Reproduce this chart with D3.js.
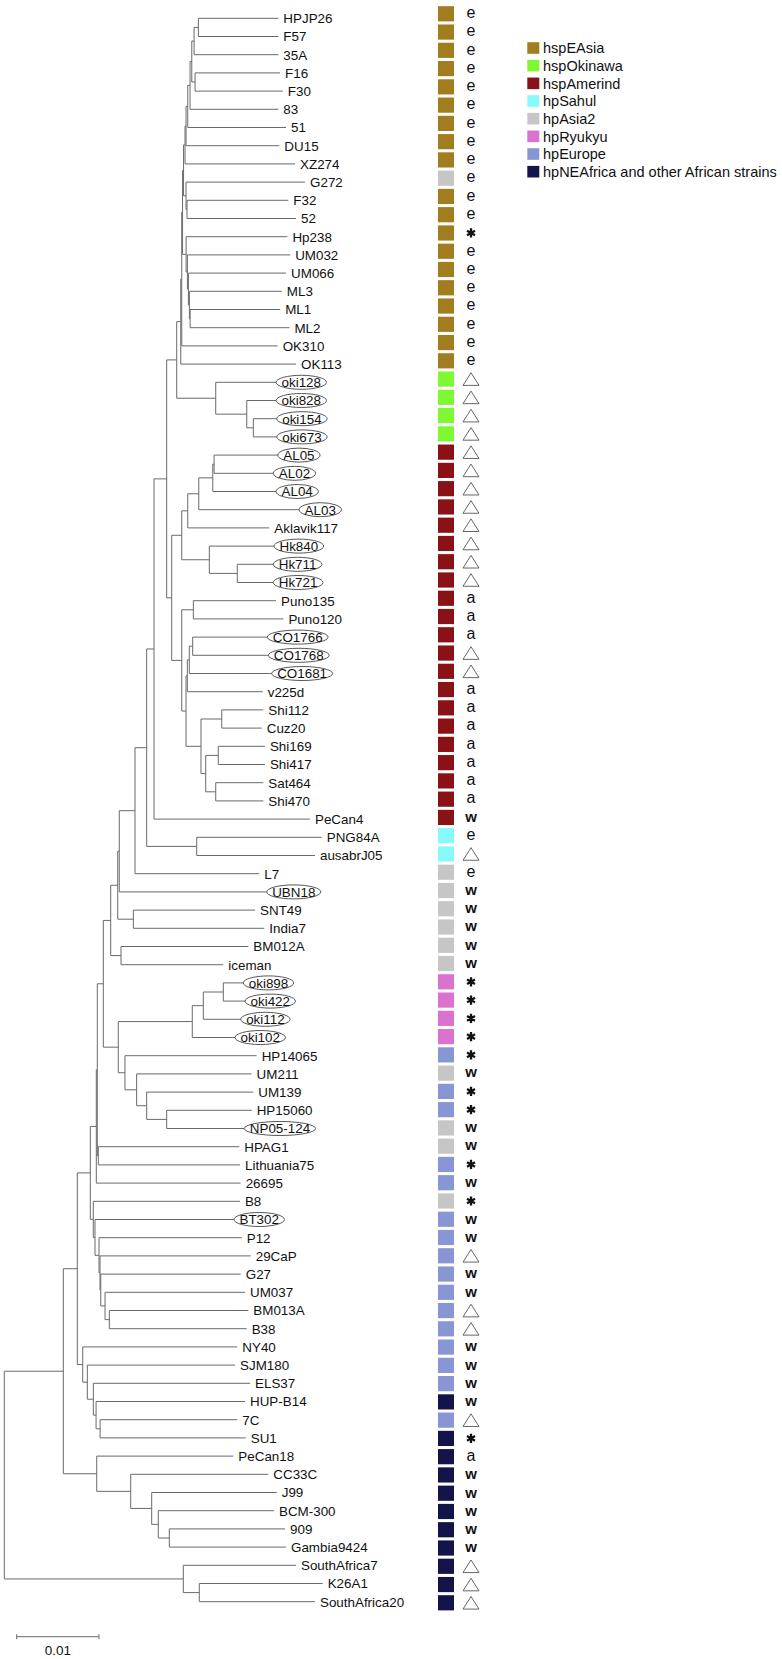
<!DOCTYPE html>
<html><head><meta charset="utf-8">
<script src="https://cdn.jsdelivr.net/npm/d3@7"></script>
<style>
html,body{margin:0;padding:0;background:#fff;}
svg{display:block;font-family:"Liberation Sans",Arial,Helvetica,sans-serif;}
</style></head>
<body>
<svg id="chart" width="782" height="1659"></svg>
<script>
// ---------------- DATA ----------------
// Clades in Newick form; branch lengths in substitutions per site
const cladeEAsiaA = "((((((((HPJP26:0.00972,F57:0.00972):0.00052,35A:0.01024):0.00028,(F16:0.01033,F30:0.01066):0.00040):0.00021,83:0.01073):0.00028,51:0.01194):0.00021,DU15:0.01134):0.00012,XZ274:0.01337):0.00018";
const cladeEAsiaB = "(G272:0.01446,(F32:0.01231,52:0.01324):0.00012):0.00030";
const cladeEAsiaC = "(Hp238:0.01231,(UM032:0.01248,(UM066:0.01187,(ML3:0.01123,(ML1:0.01094,ML2:0.01207):0.00009):0.00012):0.00012):0.00016):0.00043";
const cladeOkinawa = "(oki128:0.00733,(oki828:0.00356,(oki154:0.00284,oki673:0.00284):0.00080):0.00377):0.00474";
const cladeAmerindN = "(((((AL05:0.00774,AL02:0.00720):0.00016,AL04:0.00769):0.00170,AL03:0.01219):0.00134,Aklavik117:0.00991):0.00073,(Hk840:0.00786,(Hk711:0.00437,Hk721:0.00437):0.00340):0.00335):0.00122";
const cladeAmerindS = "((Puno135:0.01005,Puno120:0.01094):0.00141,((((CO1766:0.00906,CO1768:0.00919):0.00041,CO1681:0.01001):0.00024,v225d:0.00916):0.00016,((Shi112:0.00505,Cuz20:0.00486):0.00252,((Shi169:0.00567,Shi417:0.00567):0.00153,(Sat464:0.00578,Shi470:0.00578):0.00122):0.00057):0.00182):0.00052):0.00122";
const cladeSahul = "(PNG84A:0.01519,ausabrJ05:0.01437):0.00608";
const cladeAsia2A = "(SNT49:0.01479,India7:0.01592):0.00190";
const cladeAsia2B = "(BM012A:0.01547,iceman:0.01243):0.00125";
const cladeRyukyuEur = "((((oki898:0.00243,oki422:0.00264):0.00243,oki112:0.00454):0.00134,oki102:0.00519):0.00899,(HP14065:0.01600,(UM211:0.01397,(UM139:0.01295,(HP15060:0.01033,NP05-124:0.00943):0.00243):0.00122):0.00142):0.00081):0.00182";
const cladeEuropeA = "(HPAG1:0.01713,Lithuania75:0.01722):0.00012";
const cladeEuropeB = "(B8:0.01782,(BT302:0.01689,(P12:0.01734,(29CaP:0.01831,(G27:0.01701,(UM037:0.01701,(BM013A:0.01689,B38:0.01669):0.00052):0.00052):0.00009):0.00012):0.00049):0.00021):0.00036";
const cladeEuropeC = "(NY40:0.01878,(SJM180:0.01795,(ELS37:0.01904,(HUP-B14:0.01810,(7C:0.01668,SU1:0.01770):0.00049):0.00033):0.00073):0.00056):0.00066";
const cladeAfrica = "(PeCan18:0.01660,(CC33C:0.01672,(J99:0.01519,(BCM-300:0.01406,(909:0.01406,Gambia9424:0.01418):0.00134):0.00080):0.00255):0.00413):0.00406";
const cladeSouthAfrica = "(SouthAfrica7:0.01369,(K26A1:0.01499,SouthAfrica20:0.01406):0.00194):0.02175";

const newick =
  "((((((((((((((((((((" + cladeEAsiaA + "," + cladeEAsiaB + "):0.00012," + cladeEAsiaC + "):0.00010,OK310:0.01166):0.00012,OK113:0.01401):0.00049," +
  cladeOkinawa + "):0.00122,(" + cladeAmerindN + "," + cladeAmerindS + "):0.00061):0.00154,PeCan4:0.01895):0.00089," +
  cladeSahul + "):0.00142,L7:0.01510):0.00191,UBN18:0.01791):0.00019," + cladeAsia2A + "):0.00085," + cladeAsia2B + "):0.00090," +
  cladeRyukyuEur + "):0.00073," + cladeEuropeA + "):0.00012,26695:0.01754):0.00073," + cladeEuropeB + "):0.00158," +
  cladeEuropeC + "):0.00170," + cladeAfrica + "):0.00717," + cladeSouthAfrica + ");";

const leafNames = ["HPJP26","F57","35A","F16","F30","83","51","DU15","XZ274","G272","F32","52","Hp238","UM032","UM066","ML3","ML1","ML2","OK310","OK113",
  "oki128","oki828","oki154","oki673","AL05","AL02","AL04","AL03","Aklavik117","Hk840","Hk711","Hk721","Puno135","Puno120","CO1766","CO1768","CO1681","v225d",
  "Shi112","Cuz20","Shi169","Shi417","Sat464","Shi470","PeCan4","PNG84A","ausabrJ05","L7","UBN18","SNT49","India7","BM012A","iceman",
  "oki898","oki422","oki112","oki102","HP14065","UM211","UM139","HP15060","NP05-124","HPAG1","Lithuania75","26695","B8","BT302","P12","29CaP","G27",
  "UM037","BM013A","B38","NY40","SJM180","ELS37","HUP-B14","7C","SU1","PeCan18","CC33C","J99","BCM-300","909","Gambia9424","SouthAfrica7","K26A1","SouthAfrica20"];

const leafGroups = ["EA","EA","EA","EA","EA","EA","EA","EA","EA","AS2","EA","EA","EA","EA","EA","EA","EA","EA","EA","EA",
  "OK","OK","OK","OK","AM","AM","AM","AM","AM","AM","AM","AM","AM","AM","AM","AM","AM","AM",
  "AM","AM","AM","AM","AM","AM","AM","SAH","SAH","AS2","AS2","AS2","AS2","AS2","AS2",
  "RY","RY","RY","RY","EU","AS2","EU","EU","AS2","AS2","EU","EU","AS2","EU","EU","EU","EU",
  "EU","EU","EU","EU","EU","EU","AF","EU","AF","AF","AF","AF","AF","AF","AF","AF","AF","AF"];

const leafMarkers = ["e","e","e","e","e","e","e","e","e","e","e","e","*","e","e","e","e","e","e","e",
  "tri","tri","tri","tri","tri","tri","tri","tri","tri","tri","tri","tri","a","a","a","tri","tri","a",
  "a","a","a","a","a","a","w","e","tri","e","w","w","w","w","w",
  "*","*","*","*","*","w","*","*","w","w","*","w","*","w","w","tri","w",
  "w","tri","tri","w","w","w","w","tri","*","a","w","w","w","w","w","tri","tri","tri"];

const circledLeaves = ["oki128","oki828","oki154","oki673","AL05","AL02","AL04","AL03","Hk840","Hk711","Hk721",
  "CO1766","CO1768","CO1681","UBN18","oki898","oki422","oki112","oki102","NP05-124","BT302"];

const groupKeys = ["EA","OK","AM","SAH","AS2","RY","EU","AF"];
const groupLabels = ["hspEAsia","hspOkinawa","hspAmerind","hpSahul","hpAsia2","hpRyukyu","hpEurope","hpNEAfrica and other African strains"];
const groupColors = ["#A17D1F","#7EF832","#8A1216","#86FAFA","#C6C6C6","#DA73CF","#8897D4","#13144A"];

const scaleBarValue = 0.01;
const scaleBarLabel = "0.01";

// ---------------- PARSE ----------------
function parseNewick(s){
  const ancestors=[]; let tree={};
  const tokens=s.split(/\s*(;|\(|\)|,|:)\s*/);
  for(let i=0;i<tokens.length;i++){
    const t=tokens[i];
    switch(t){
      case "(": { const sub={}; tree.children=[sub]; ancestors.push(tree); tree=sub; break; }
      case ",": { const sub={}; ancestors[ancestors.length-1].children.push(sub); tree=sub; break; }
      case ")": tree=ancestors.pop(); break;
      case ":": break;
      default: {
        const p=tokens[i-1];
        if(p===")"||p==="("||p===",") tree.name=t;
        else if(p===":") tree.length=parseFloat(t);
      }
    }
  }
  return tree;
}

// ---------------- DRAW ----------------
const svg=d3.select("#chart");
svg.append("rect").attr("width",782).attr("height",1659).attr("fill","#fff");

const root=d3.hierarchy(parseNewick(newick));
root.eachBefore(d=>{ d.dist = d.parent ? d.parent.dist + (d.data.length||0) : 0; });

const x=d3.scaleLinear().domain([0,0.01]).range([4.3,86.6]);
const yLeaf=d3.scalePoint().domain(leafNames).range([18.3,1601.7]);
const yMark=d3.scalePoint().domain(leafNames).range([13.8,1602.8]);

root.eachAfter(d=>{
  if(!d.children) d.py=yLeaf(d.data.name);
  else d.py=(d.children[0].py+d.children[d.children.length-1].py)/2;
  d.px=x(d.dist);
});

const lineColor="#6a6a6a";
const gTree=svg.append("g").attr("fill","none").attr("stroke",lineColor).attr("stroke-width",1);
// horizontal branches
gTree.selectAll("line.h").data(root.descendants().filter(d=>d.parent)).join("line")
  .attr("x1",d=>d.parent.px).attr("x2",d=>d.px).attr("y1",d=>d.py).attr("y2",d=>d.py);
// vertical connectors
gTree.selectAll("line.v").data(root.descendants().filter(d=>d.children)).join("line")
  .attr("x1",d=>d.px).attr("x2",d=>d.px)
  .attr("y1",d=>d.children[0].py).attr("y2",d=>d.children[d.children.length-1].py);

// leaf labels
const circled=new Set(circledLeaves);
const fs=13.4;
const gLab=svg.append("g").attr("font-size",fs).attr("fill","#111");
root.leaves().forEach(d=>{
  const name=d.data.name;
  if(circled.has(name)){
    const t=gLab.append("text").attr("y",d.py).attr("dy","0.36em").attr("text-anchor","middle").text(name);
    const tw=t.node().getComputedTextLength();
    const rx=tw/2+5.5;
    const cx=d.px+rx;
    t.attr("x",cx);
    gLab.insert("ellipse","text").attr("cx",cx).attr("cy",d.py).attr("rx",rx).attr("ry",7)
      .attr("fill","#fff").attr("stroke","#444").attr("stroke-width",0.9);
  } else {
    gLab.append("text").attr("x",d.px+5).attr("y",d.py).attr("dy","0.36em").text(name);
  }
});

// group color squares
const colorOf=d3.scaleOrdinal().domain(groupKeys).range(groupColors);
svg.append("g").selectAll("rect").data(leafNames).join("rect")
  .attr("x",438).attr("width",16).attr("y",(n)=>yMark(n)-7.6).attr("height",15.2)
  .attr("fill",(n,i)=>colorOf(leafGroups[i]));

// markers
const gMk=svg.append("g");
const mx=471;
leafNames.forEach((n,i)=>{
  const m=leafMarkers[i], cy=yMark(n);
  if(m==="tri"){
    gMk.append("path").attr("d",`M${mx-8},${cy+6.3}L${mx+8},${cy+6.3}L${mx},${cy-6.3}Z`)
      .attr("fill","#fff").attr("stroke","#555").attr("stroke-width",0.9);
  } else if(m==="*"){
    const r=4.6, a=[90,30,150].map(t=>t*Math.PI/180);
    const p=a.map(t=>`M${mx-r*Math.cos(t)},${cy-r*Math.sin(t)}L${mx+r*Math.cos(t)},${cy+r*Math.sin(t)}`).join("");
    gMk.append("path").attr("d",p).attr("stroke","#111").attr("stroke-width",2.3).attr("stroke-linecap","butt");
  } else {
    gMk.append("text").attr("x",mx).attr("y",cy+4.3).attr("text-anchor","middle")
      .attr("font-size",m==="w"?15:16).attr("font-weight",m==="w"?"bold":"normal").attr("fill","#111").text(m);
  }
});

// legend
const gLeg=svg.append("g");
groupLabels.forEach((lab,i)=>{
  const cy=48+i*17.67;
  gLeg.append("rect").attr("x",527.3).attr("y",cy-5.8).attr("width",12).attr("height",11.6).attr("fill",groupColors[i]);
  gLeg.append("text").attr("x",543).attr("y",cy).attr("dy","0.36em").attr("font-size",14.5).attr("fill","#111").text(lab);
});

// scale bar
const sbX0=16.7, sbX1=sbX0+(x(scaleBarValue)-x(0)), sbY=1636.7;
const gSb=svg.append("g").attr("stroke",lineColor).attr("stroke-width",1);
gSb.append("line").attr("x1",sbX0).attr("x2",sbX1).attr("y1",sbY).attr("y2",sbY);
gSb.append("line").attr("x1",sbX0).attr("x2",sbX0).attr("y1",sbY-2.5).attr("y2",sbY+2.5);
gSb.append("line").attr("x1",sbX1).attr("x2",sbX1).attr("y1",sbY-2.5).attr("y2",sbY+2.5);
svg.append("text").attr("x",(sbX0+sbX1)/2).attr("y",1655).attr("text-anchor","middle")
  .attr("font-size",13.5).attr("fill","#111").text(scaleBarLabel);
</script>
</body></html>
